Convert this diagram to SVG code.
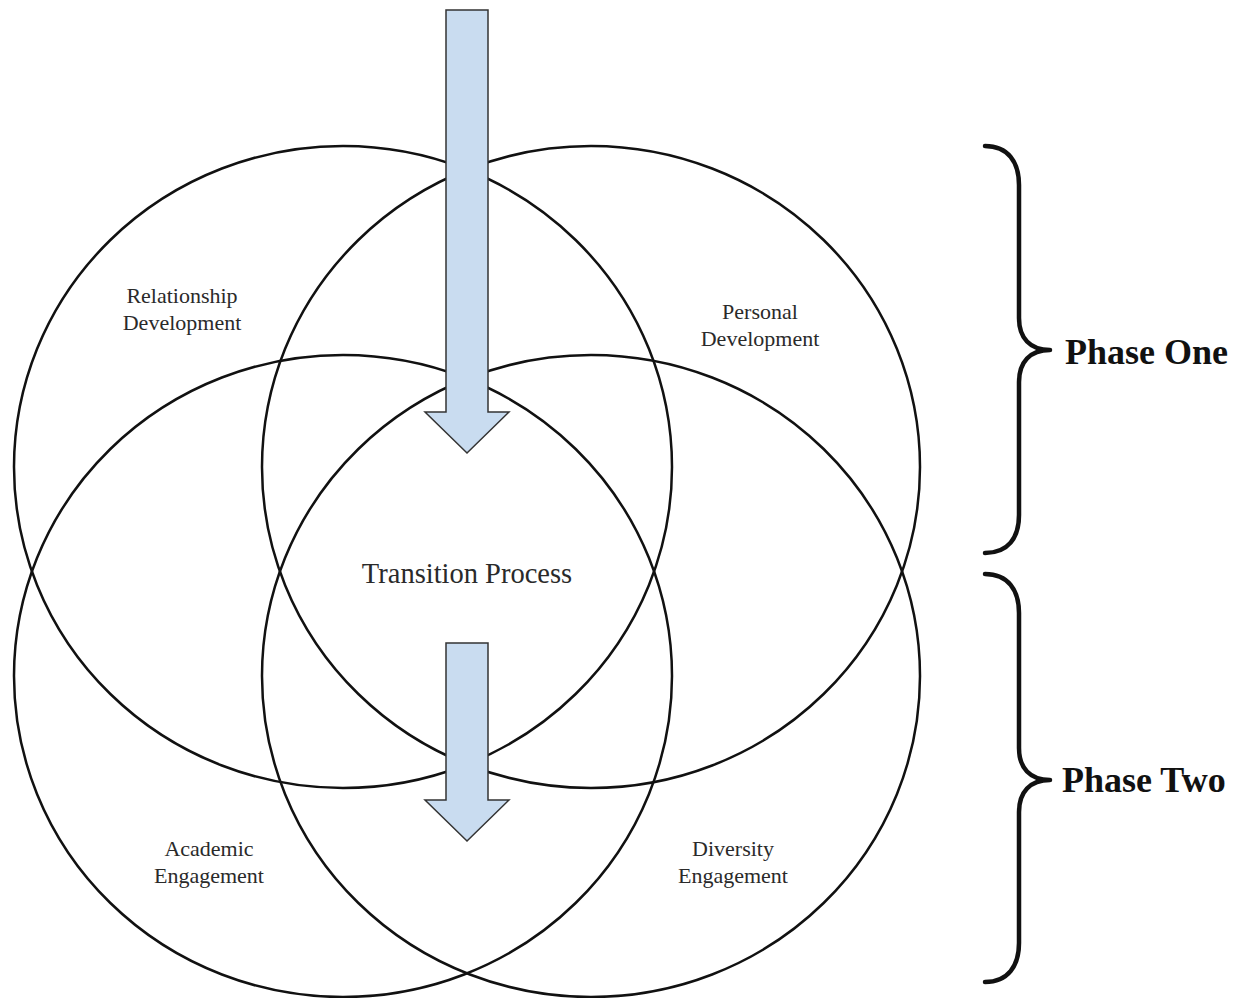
<svg xmlns="http://www.w3.org/2000/svg" width="1242" height="998" viewBox="0 0 1242 998">
<style>
.ring{fill:none;stroke:#111;stroke-width:2.5}
.lbl{font-family:"Liberation Serif","Times New Roman",serif;font-size:22px;fill:#2a2a2a;text-anchor:middle}
.big{font-family:"Liberation Serif","Times New Roman",serif;font-size:28.5px;fill:#2a2a2a;text-anchor:middle}
.phase{font-family:"Liberation Serif","Times New Roman",serif;font-size:36px;font-weight:bold;fill:#111}
.brace{fill:none;stroke:#111;stroke-width:4.5;stroke-linecap:round;stroke-linejoin:round}
.arrow{fill:#c9dcf0;stroke:#333;stroke-width:1.5;stroke-linejoin:miter}
</style>
<rect x="0" y="0" width="1242" height="998" fill="#fff"/>
<g id="relationship-development">
<ellipse class="ring" cx="343" cy="467" rx="329" ry="321"/>
<text class="lbl" x="182" y="303">Relationship</text>
<text class="lbl" x="182" y="330">Development</text>
</g>
<g id="personal-development">
<ellipse class="ring" cx="591" cy="467" rx="329" ry="321"/>
<text class="lbl" x="760" y="319">Personal</text>
<text class="lbl" x="760" y="346">Development</text>
</g>
<g id="academic-engagement">
<ellipse class="ring" cx="343" cy="676" rx="329" ry="321"/>
<text class="lbl" x="209" y="856">Academic</text>
<text class="lbl" x="209" y="883">Engagement</text>
</g>
<g id="diversity-engagement">
<ellipse class="ring" cx="591" cy="676" rx="329" ry="321"/>
<text class="lbl" x="733" y="856">Diversity</text>
<text class="lbl" x="733" y="883">Engagement</text>
</g>
<g id="transition-process">
<text class="big" x="467" y="583">Transition Process</text>
</g>
<g id="connectors">
<polygon class="arrow" points="446,10 488,10 488,412 509,412 467,453 425,412 446,412"/>
<polygon class="arrow" points="446,643 488,643 488,800 509,800 467,841 425,800 446,800"/>
</g>
<g id="phase-one">
<path class="brace" d="M985,146 C1008,146 1019,162 1019,185 L1019,318 C1019,338 1030,350 1050,350 C1030,350 1019,362 1019,382 L1019,515 C1019,538 1008,553 985,553"/>
<text class="phase" x="1065" y="364">Phase One</text>
</g>
<g id="phase-two">
<path class="brace" d="M985,574 C1008,574 1019,590 1019,613 L1019,748 C1019,768 1030,780 1050,780 C1030,780 1019,792 1019,812 L1019,943 C1019,966 1008,982 985,982"/>
<text class="phase" x="1062" y="792">Phase Two</text>
</g>
</svg>
